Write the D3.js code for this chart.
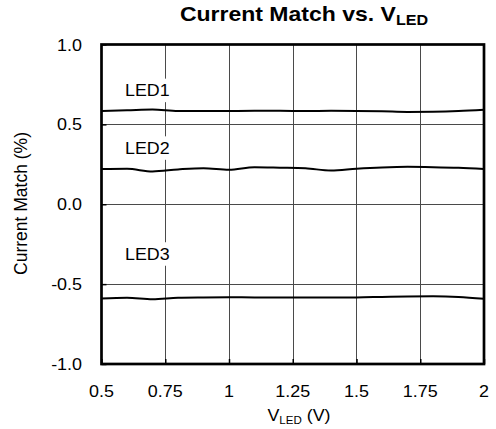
<!DOCTYPE html>
<html>
<head>
<meta charset="utf-8">
<script src="https://cdn.jsdelivr.net/npm/d3@7"></script>
<style>
  html, body { margin: 0; padding: 0; background: #fff; }
  svg { display: block; font-family: "Liberation Sans", Arial, sans-serif; }
</style>
</head>
<body>
<svg id="chart" width="496" height="429"></svg>
<script>
// ---- data ----
const vled = [0.5, 0.6, 0.7, 0.8, 0.9, 1.0, 1.1, 1.2, 1.3, 1.4, 1.5, 1.6, 1.7, 1.8, 1.9, 2.0];
const led1 = [0.584, 0.588, 0.593, 0.583, 0.583, 0.584, 0.585, 0.585, 0.584, 0.585, 0.584, 0.582, 0.578, 0.579, 0.583, 0.591];
const led2 = [0.220, 0.222, 0.205, 0.218, 0.226, 0.216, 0.232, 0.229, 0.225, 0.211, 0.222, 0.230, 0.234, 0.232, 0.228, 0.220];
const led3 = [-0.590, -0.585, -0.594, -0.585, -0.583, -0.582, -0.583, -0.583, -0.583, -0.583, -0.583, -0.580, -0.577, -0.576, -0.580, -0.592];
const seriesNames = ["LED1", "LED2", "LED3"];
const labelX = 0.592;
const labelY = [0.676, 0.315, -0.348];
const xTicks = [0.5, 0.75, 1, 1.25, 1.5, 1.75, 2];
const xTickLabels = ["0.5", "0.75", "1", "1.25", "1.5", "1.75", "2"];
const yTicks = [-1, -0.5, 0, 0.5, 1];
const yTickLabels = ["-1.0", "-0.5", "0.0", "0.5", "1.0"];

// ---- layout ----
const svg = d3.select("#chart");
const L = 101.5, R = 484, T = 44.5, B = 364;
const x = d3.scaleLinear().domain([0.5, 2]).range([L, R]);
const y = d3.scaleLinear().domain([-1, 1]).range([B, T]);

function stretchText(parent, px, py, str, size, sx, anchor, weight) {
  const g = parent.append("g").attr("transform", `translate(${px},${py}) scale(${sx},1)`);
  return g.append("text").attr("text-anchor", anchor).attr("font-size", size)
    .attr("font-weight", weight || "normal").attr("fill", "#000").text(str);
}

// grid
const grid = svg.append("g").attr("stroke", "#4a4a4a").attr("stroke-width", 1);
grid.selectAll(".vg").data(xTicks.slice(1, -1)).enter().append("line")
  .attr("x1", d => Math.round(x(d)) + 0.5).attr("x2", d => Math.round(x(d)) + 0.5)
  .attr("y1", T).attr("y2", B);
grid.selectAll(".hg").data(yTicks.slice(1, -1)).enter().append("line")
  .attr("y1", d => Math.round(y(d)) + 0.5).attr("y2", d => Math.round(y(d)) + 0.5)
  .attr("x1", L).attr("x2", R);

// axes (inward ticks)
const xAxis = d3.axisBottom(x).tickValues(xTicks).tickSize(-5).tickFormat("");
const yAxis = d3.axisLeft(y).tickValues(yTicks).tickSize(-5).tickFormat("");
const gx = svg.append("g").attr("transform", `translate(0,${B})`).call(xAxis);
const gy = svg.append("g").attr("transform", `translate(${L},0)`).call(yAxis);
[gx, gy].forEach(g => {
  g.select(".domain").remove();
  g.selectAll(".tick line").attr("stroke", "#000").attr("stroke-width", 1.5);
});

// series lines
const line = d3.line().x((d, i) => x(vled[i])).y(d => y(d)).curve(d3.curveMonotoneX);
[led1, led2, led3].forEach(s => {
  svg.append("path").datum(s).attr("d", line)
    .attr("fill", "none").attr("stroke", "#000").attr("stroke-width", 2);
});

// series labels with white background
seriesNames.forEach((name, i) => {
  const g = svg.append("g");
  stretchText(g, x(labelX), y(labelY[i]), name, 17, 1.05, "start");
  const bb = g.node().getBBox();
  g.insert("rect", ":first-child").attr("x", bb.x - 2).attr("y", bb.y - 2)
    .attr("width", bb.width + 4).attr("height", bb.height + 4).attr("fill", "#fff");
});

// frame
svg.append("rect").attr("x", L).attr("y", T).attr("width", R - L).attr("height", B - T)
  .attr("fill", "none").attr("stroke", "#000").attr("stroke-width", 2.7);

// tick labels
xTicks.forEach((v, i) => {
  stretchText(svg, x(v), 397, xTickLabels[i], 16, 1.12, "middle");
});
yTicks.forEach((v, i) => {
  stretchText(svg, 82, y(v) + 6, yTickLabels[i], 16, 1.12, "end");
});

// axis titles
const xt = stretchText(svg, 299, 421, "V", 17, 1.05, "middle");
xt.append("tspan").attr("font-size", 11).attr("dy", 3).text("LED");
xt.append("tspan").attr("font-size", 17).attr("dy", -3).text(" (V)");

svg.append("text").attr("transform", `translate(26.5,203.5) rotate(-90)`)
  .attr("text-anchor", "middle").attr("font-size", 17.5).text("Current Match (%)");

// title
const tt = stretchText(svg, 304, 21, "Current Match vs. V", 20, 1.15, "middle", "bold");
tt.append("tspan").attr("font-size", 14).attr("dy", 4).text("LED");
</script>
</body>
</html>
